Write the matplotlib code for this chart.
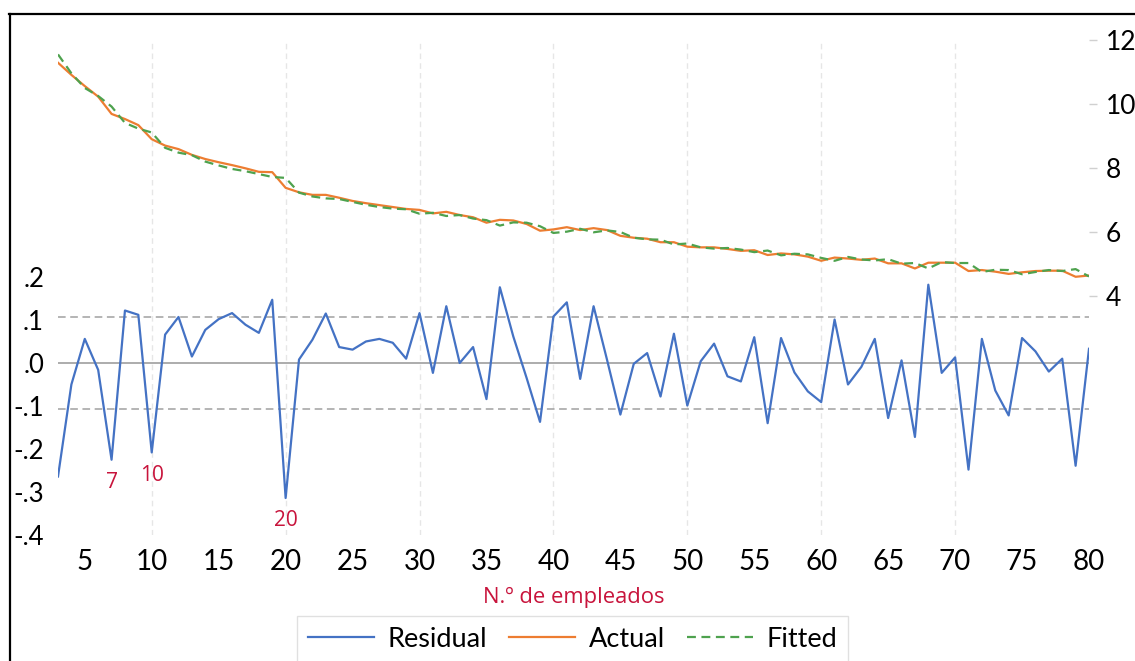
import matplotlib
matplotlib.use('Agg')
import matplotlib.pyplot as plt
from matplotlib.lines import Line2D
from matplotlib.ticker import FuncFormatter

# observaciones 3..80 (N.º de empleados)
obs = list(range(3, 81))

residual = [-0.264, -0.050, 0.056, -0.016, -0.225, 0.122, 0.112, -0.208, 0.066, 0.107,
            0.015, 0.077, 0.102, 0.116, 0.089, 0.070, 0.147, -0.314, 0.008, 0.054,
            0.115, 0.037, 0.031, 0.050, 0.056, 0.047, 0.010, 0.116, -0.023, 0.132,
            0.000, 0.037, -0.084, 0.176, 0.062, -0.035, -0.137, 0.108, 0.141, -0.037,
            0.132, 0.008, -0.120, -0.002, 0.023, -0.078, 0.068, -0.099, 0.004, 0.045,
            -0.031, -0.043, 0.060, -0.140, 0.058, -0.022, -0.066, -0.091, 0.101, -0.050,
            -0.009, 0.056, -0.128, 0.006, -0.172, 0.182, -0.023, 0.013, -0.248, 0.056,
            -0.064, -0.122, 0.058, 0.027, -0.020, 0.010, -0.239, 0.033]

actual = [11.29, 10.91, 10.56, 10.23, 9.69, 9.53, 9.34, 8.90, 8.70, 8.59,
          8.41, 8.28, 8.18, 8.09, 7.99, 7.88, 7.87, 7.38, 7.24, 7.16,
          7.16, 7.07, 6.97, 6.90, 6.84, 6.78, 6.72, 6.69, 6.58, 6.63,
          6.53, 6.46, 6.29, 6.38, 6.36, 6.25, 6.04, 6.08, 6.15, 6.06,
          6.12, 6.06, 5.88, 5.82, 5.79, 5.68, 5.68, 5.54, 5.52, 5.52,
          5.47, 5.41, 5.43, 5.28, 5.33, 5.30, 5.23, 5.10, 5.20, 5.17,
          5.13, 5.17, 5.02, 5.02, 4.86, 5.04, 5.04, 5.04, 4.78, 4.81,
          4.76, 4.69, 4.74, 4.78, 4.79, 4.79, 4.60, 4.64]

fitted = [11.55, 10.96, 10.50, 10.25, 9.92, 9.41, 9.23, 9.11, 8.63, 8.48,
          8.40, 8.20, 8.08, 7.97, 7.90, 7.81, 7.72, 7.69, 7.23, 7.11,
          7.05, 7.03, 6.94, 6.85, 6.78, 6.73, 6.71, 6.57, 6.60, 6.50,
          6.53, 6.42, 6.37, 6.20, 6.30, 6.29, 6.18, 5.97, 6.01, 6.10,
          5.99, 6.05, 6.00, 5.82, 5.77, 5.76, 5.61, 5.64, 5.52, 5.48,
          5.50, 5.45, 5.37, 5.42, 5.27, 5.32, 5.30, 5.19, 5.10, 5.22,
          5.14, 5.11, 5.15, 5.01, 5.03, 4.86, 5.06, 5.03, 5.03, 4.75,
          4.82, 4.81, 4.68, 4.75, 4.81, 4.78, 4.84, 4.61]

outlier_obs = [7, 10, 20]
se_band = 0.108

x_ticks = list(range(5, 85, 5))
left_ticks = [-0.4, -0.3, -0.2, -0.1, 0.0, 0.1, 0.2]
right_ticks = [4, 6, 8, 10, 12]

c_res = '#4472c4'
c_act = '#ed7d31'
c_fit = '#4ea24e'
c_red = '#c8143c'

plt.rcParams['font.family'] = ['Lato', 'DejaVu Sans']
red_font = ['Open Sans', 'DejaVu Sans']

W, H = 1135, 661
fig = plt.figure(figsize=(W / 100, H / 100), dpi=100)
ax = fig.add_axes([58 / W, 1 - 535 / H, (1089 - 58) / W, 495 / H])
ax2 = ax.twinx()

# rejilla vertical
for xv in range(10, 80, 10):
    ax.axvline(xv, color='#e6e6e6', lw=1, ls=(0, (4, 3)), zorder=0)

ax.axhline(0, color='#a6a6a6', lw=1.3, zorder=1)
ax.axhline(se_band, color='#a0a0a0', lw=1.1, ls=(0, (5, 3)), zorder=1)
ax.axhline(-se_band, color='#a0a0a0', lw=1.1, ls=(0, (5, 3)), zorder=1)

l_res, = ax.plot(obs, residual, color=c_res, lw=1.6, zorder=3)
l_act, = ax2.plot(obs, actual, color=c_act, lw=1.6)
l_fit, = ax2.plot(obs, fitted, color=c_fit, lw=1.6, ls=(0, (4, 2.5)))

for o in outlier_obs:
    r = residual[obs.index(o)]
    ax.annotate(str(o), xy=(o, r), xytext=(0, -16.5), textcoords='offset points',
                ha='center', va='center', color=c_red, fontsize=15, family=red_font)

ax.set_xlim(3, 80)
ax.set_ylim(-0.4, 0.751)
ax2.set_ylim(-3.47, 12)

ax.set_xticks(x_ticks)
ax.set_yticks(left_ticks)
ax.yaxis.set_major_formatter(FuncFormatter(
    lambda v, p: ('-' if v < -1e-9 else '') + ('%.1f' % abs(v)).lstrip('0')))
ax2.set_yticks(right_ticks)

ax.tick_params(axis='x', length=0, pad=10, labelsize=20)
ax.tick_params(axis='y', length=0, pad=10, labelsize=18.5)
ax2.tick_params(axis='y', length=6, width=1, color='#d0d0d0', pad=6, labelsize=19)

for a in (ax, ax2):
    for s in a.spines.values():
        s.set_visible(False)

ax.set_xlabel('N.º de empleados', color=c_red, fontsize=15.8, family=red_font)
ax.xaxis.set_label_coords(0.5, -0.127)
ax.xaxis.label.set_va('center')

fig.legend([l_res, l_act, l_fit], ['Residual', 'Actual', 'Fitted'],
           loc='upper left', bbox_to_anchor=(297 / W, 1 - 616 / H), ncol=3,
           frameon=True, fancybox=False, edgecolor='#d9d9d9', fontsize=19.5,
           handlelength=2.45, handletextpad=0.5, columnspacing=0.8,
           borderpad=0.4, borderaxespad=0)

# marco exterior
fig.add_artist(Line2D([9.5 / W, 9.5 / W], [0, 1 - 14 / H], color='black', lw=1.6))
fig.add_artist(Line2D([9 / W, 1], [1 - 14 / H, 1 - 14 / H], color='black', lw=1.6))

plt.savefig('out.png', dpi=100)
